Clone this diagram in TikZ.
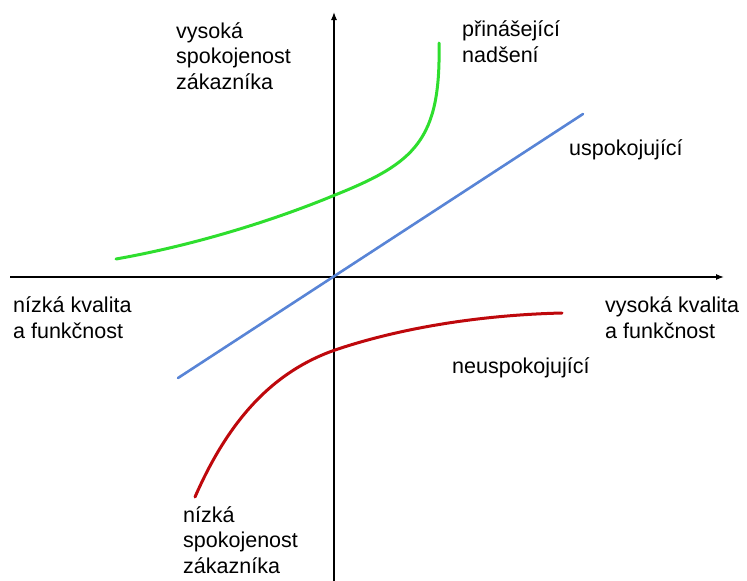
\documentclass[tikz,border=0pt]{standalone}
\usepackage{fontspec}
\setmainfont{Liberation Sans}
\usetikzlibrary{arrows.meta}
\definecolor{zelena}{RGB}{46,222,46}
\definecolor{modra}{RGB}{88,132,214}
\definecolor{cervena}{RGB}{190,8,12}
\tikzset{
  osa/.style={line width=1.2pt,-{Latex[length=8pt,width=6pt]}},
  krivka/.style={line width=3pt,line cap=round},
  popis/.style={anchor=base west,inner sep=0pt,align=left,
    font=\fontsize{21.5}{25.5}\selectfont},
}
\begin{document}
\begin{tikzpicture}[x=1pt,y=-1pt]
  \useasboundingbox (0,0) rectangle (747,581);
  % osy
  \coordinate (xl) at (10,277);
  \coordinate (xp) at (724,277);
  \coordinate (yd) at (334,581);
  \coordinate (yh) at (334,12);
  \draw[osa] (xl) -- (xp);
  \draw[osa] (yd) -- (yh);
  % krivky
  \draw[krivka,zelena] (116,259) .. controls (190,246) and (270,222) .. (335,195)
    .. controls (415,163) and (441,140) .. (439,43);
  \draw[krivka,modra,line width=2.6pt] (178,378) -- (583,114);
  \draw[krivka,cervena] (195,497) .. controls (230,417) and (275,371) .. (335,350)
    .. controls (400,328) and (480,315) .. (562,313);
  % popisky (kotva = uctari posledniho radku)
  \node[popis] (vspok) at (176,89) {vysoká\\spokojenost\\zákazníka};
  \node[popis] (nadseni) at (462,62) {přinášející\\nadšení};
  \node[popis] (uspok) at (569,155) {uspokojující};
  \node[popis] (nkval) at (13,338) {nízká kvalita\\a funkčnost};
  \node[popis] (vkval) at (605,338) {vysoká kvalita\\a funkčnost};
  \node[popis] (neuspok) at (452,373) {neuspokojující};
  \node[popis] (nspok) at (183,573) {nízká\\spokojenost\\zákazníka};
\end{tikzpicture}
\end{document}
